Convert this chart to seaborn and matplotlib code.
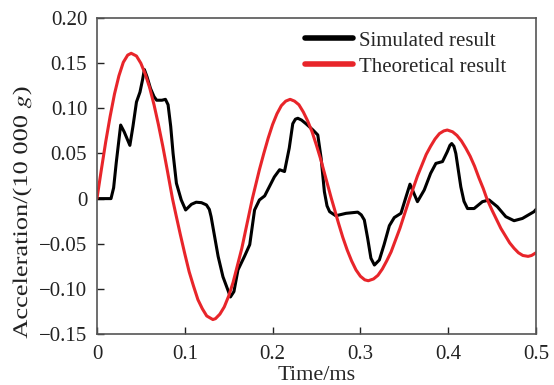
import numpy as np
import pandas as pd
import matplotlib
matplotlib.use("Agg")
import matplotlib.pyplot as plt
import seaborn as sns
from matplotlib.textpath import TextPath
from matplotlib.patches import PathPatch
from matplotlib.font_manager import FontProperties
from matplotlib.transforms import Affine2D, IdentityTransform

# simulated result
t_sim = [0.0, 0.016, 0.019, 0.022, 0.027, 0.031, 0.0375, 0.041, 0.045, 0.049, 0.052, 0.054,
         0.057, 0.061, 0.065, 0.068, 0.074, 0.078, 0.081, 0.084,
         0.0867, 0.0905, 0.096, 0.101, 0.1076, 0.113, 0.119, 0.1247, 0.128, 0.130, 0.134, 0.138,
         0.1435, 0.149, 0.152, 0.156, 0.1606, 0.168, 0.174, 0.1795, 0.185, 0.191, 0.202,
         0.208, 0.2136, 0.219, 0.223, 0.226, 0.2288, 0.233, 0.238, 0.246, 0.2515, 0.2553, 0.259,
         0.262, 0.265, 0.272, 0.2837, 0.297, 0.301, 0.3045, 0.3083, 0.312, 0.316, 0.3216, 0.327,
         0.333, 0.3386, 0.3462, 0.352, 0.3565, 0.360, 0.365, 0.3727, 0.380, 0.386, 0.3935, 0.399,
         0.402, 0.404, 0.4065, 0.4087, 0.4144, 0.418, 0.422, 0.4295, 0.439, 0.4466, 0.456, 0.4656,
         0.475, 0.4845, 0.4977, 0.5]
a_sim = [0.0, 0.0, 0.012, 0.04, 0.0815, 0.074, 0.059, 0.080, 0.107, 0.118, 0.132, 0.143,
         0.135, 0.122, 0.113, 0.109, 0.109, 0.110, 0.104, 0.080,
         0.050, 0.017, -0.0015, -0.0126, -0.0063, -0.004, -0.0045, -0.007, -0.012, -0.020, -0.042, -0.064,
         -0.0866, -0.101, -0.109, -0.103, -0.079, -0.064, -0.051, -0.0126, -0.0015, 0.003, 0.024,
         0.032, 0.030, 0.056, 0.083, 0.088, 0.089, 0.087, 0.083, 0.076, 0.0705, 0.0447, 0.0077,
         -0.008, -0.0145, -0.019, -0.0163, -0.015, -0.018, -0.0237, -0.044, -0.066, -0.0736, -0.068, -0.051,
         -0.030, -0.021, -0.0163, 0.002, 0.016, 0.008, -0.0034, 0.0095, 0.028, 0.039, 0.041, 0.052,
         0.059, 0.061, 0.058, 0.050, 0.013, -0.003, -0.011, -0.011, -0.0034, -0.0015, -0.009, -0.020,
         -0.0245, -0.022, -0.0145, -0.012]

# theoretical result
t_theo = [0.0, 0.005, 0.01, 0.015, 0.02, 0.025, 0.03, 0.035, 0.039, 0.045, 0.05, 0.055, 0.06,
          0.065, 0.07, 0.075, 0.08, 0.086, 0.09, 0.095, 0.10, 0.105, 0.11, 0.115, 0.12, 0.125,
          0.132, 0.135, 0.14, 0.145, 0.15, 0.155, 0.16, 0.165, 0.17, 0.177, 0.18, 0.185, 0.19,
          0.195, 0.20, 0.205, 0.21, 0.215, 0.22, 0.225, 0.23, 0.235, 0.24, 0.245, 0.25, 0.255,
          0.26, 0.267, 0.27, 0.275, 0.28, 0.285, 0.29, 0.295, 0.30, 0.305, 0.309, 0.315, 0.32,
          0.325, 0.33, 0.335, 0.34, 0.345, 0.35, 0.356, 0.36, 0.365, 0.37, 0.375, 0.38, 0.385,
          0.39, 0.395, 0.399, 0.405, 0.41, 0.415, 0.42, 0.425, 0.43, 0.435, 0.44, 0.444, 0.45,
          0.455, 0.46, 0.465, 0.47, 0.475, 0.48, 0.485, 0.491, 0.495, 0.5]
a_theo = [0.0, 0.032, 0.063, 0.091, 0.116, 0.136, 0.151, 0.159, 0.161, 0.158, 0.150, 0.138, 0.123,
          0.104, 0.082, 0.058, 0.032, 0.0, -0.018, -0.040, -0.061, -0.081, -0.097, -0.112, -0.122, -0.130,
          -0.134, -0.133, -0.128, -0.120, -0.108, -0.093, -0.074, -0.055, -0.032, 0.0, 0.012, 0.032, 0.050,
          0.067, 0.082, 0.094, 0.103, 0.108, 0.110, 0.108, 0.104, 0.096, 0.086, 0.074, 0.059, 0.043,
          0.025, 0.0, -0.010, -0.027, -0.043, -0.057, -0.069, -0.079, -0.086, -0.090, -0.091, -0.089, -0.085,
          -0.078, -0.069, -0.059, -0.046, -0.033, -0.018, 0.0, 0.011, 0.025, 0.037, 0.049, 0.058, 0.066,
          0.072, 0.075, 0.076, 0.074, 0.070, 0.064, 0.056, 0.047, 0.036, 0.023, 0.011, 0.0, -0.013,
          -0.023, -0.033, -0.041, -0.049, -0.055, -0.060, -0.063, -0.064, -0.063, -0.060]

x_ticks = [0, 0.1, 0.2, 0.3, 0.4, 0.5]
x_labels = ["0", "0.1", "0.2", "0.3", "0.4", "0.5"]
y_ticks = [-0.15, -0.10, -0.05, 0, 0.05, 0.10, 0.15, 0.20]
y_labels = ["\u22120.15", "\u22120.10", "\u22120.05", "0", "0.05", "0.10", "0.15", "0.20"]

df = pd.concat([
    pd.DataFrame({"t": t_sim, "a": a_sim, "series": "Simulated result"}),
    pd.DataFrame({"t": t_theo, "a": a_theo, "series": "Theoretical result"}),
])

sns.set_style("ticks")
plt.rcParams["font.family"] = ["Liberation Serif", "DejaVu Serif"]
plt.rcParams["mathtext.fontset"] = "stix"
plt.rcParams["lines.solid_joinstyle"] = "round"

fig = plt.figure(figsize=(5.54, 3.85), dpi=100)
ax = fig.add_axes([0.175, 0.1325, 0.7925, 0.8205])

sns.lineplot(data=df, x="t", y="a", hue="series", sort=False,
             palette={"Simulated result": "black", "Theoretical result": "#e8252a"},
             linewidth=2.2, ax=ax)

ax.set_xlim(0, 0.5)
ax.set_ylim(-0.15, 0.20)
ax.set_xticks(x_ticks)
ax.set_xticklabels(x_labels)
ax.set_yticks(y_ticks)
ax.set_yticklabels(y_labels)
ax.tick_params(direction="in", length=5, width=1, labelsize=15, colors="#222222")
ax.tick_params(axis="x", pad=8)
ax.tick_params(axis="y", pad=7)
for s in ax.spines.values():
    s.set_visible(True)
    s.set_color("#555555")
    s.set_linewidth(1.2)

ax.set_xlabel("Time/ms", fontsize=16, labelpad=1.5)
ax.set_ylabel("")

# y label: horizontally stretched text like the original
tp = TextPath((0, 0), "Acceleration/(10 000 $\\mathit{g}$)", size=20.8,
              prop=FontProperties(family="Liberation Serif"))
ext = tp.get_extents()
cx, cy = (ext.x0 + ext.x1) / 2, (ext.y0 + ext.y1) / 2
tr = (Affine2D().translate(-cx, -cy).scale(1.27, 1.0).rotate_deg(90)
      .translate(22, 385 - 213))
fig.add_artist(PathPatch(tr.transform_path(tp), transform=IdentityTransform(),
                         facecolor="#222222", edgecolor="none"))

leg = ax.legend(loc="upper left", frameon=False, fontsize=15, handlelength=2.26,
                handletextpad=0.3, labelspacing=0.3, borderaxespad=0.0,
                bbox_to_anchor=(0.456, 0.985))
for line in leg.get_lines():
    line.set_linewidth(4)

fig.savefig("out.png", dpi=100)
